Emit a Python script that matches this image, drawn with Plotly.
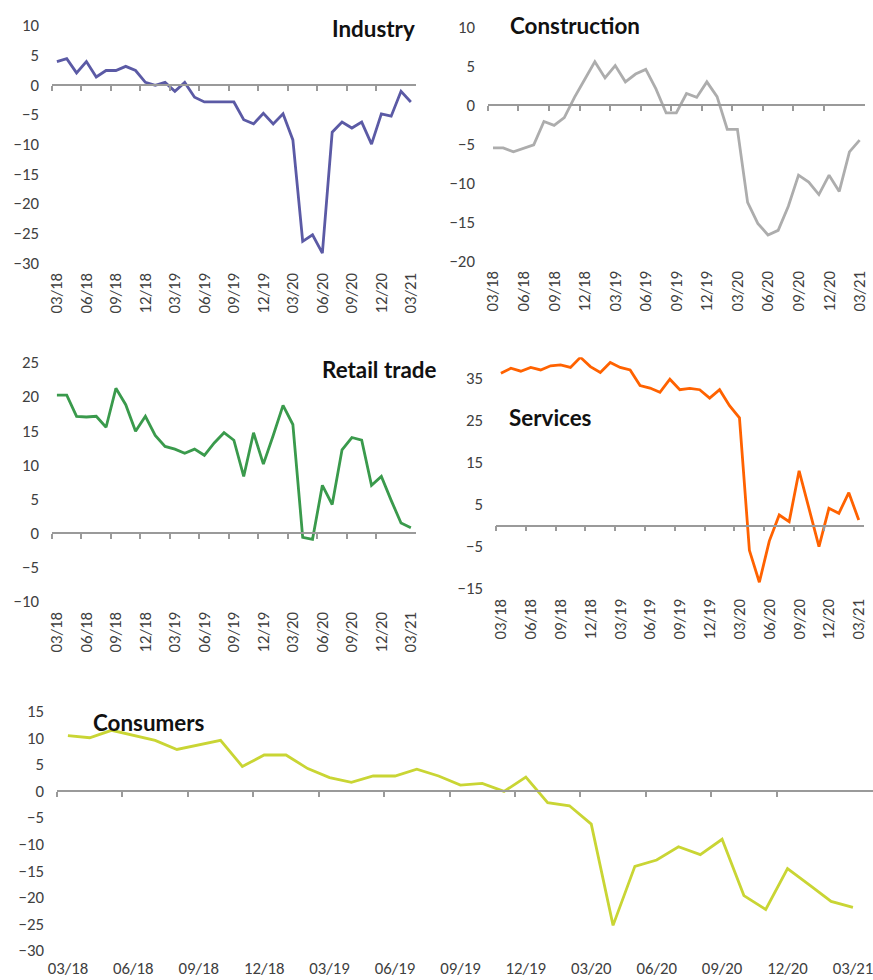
import plotly.graph_objects as go
import pandas as pd

# Monthly observations, March 2018 - March 2021
months = pd.period_range("2018-03", "2021-03", freq="M").strftime("%m/%y").tolist()

industry = [3.9, 4.4, 2.0, 3.9, 1.3, 2.4, 2.4, 3.1, 2.4, 0.4, -0.1, 0.4, -1.1,
            0.4, -2.1, -2.9, -2.9, -2.9, -2.9, -5.9, -6.6, -4.8, -6.6, -4.9,
            -9.3, -26.4, -25.3, -28.4, -8.0, -6.3, -7.3, -6.3, -10.0, -4.9,
            -5.3, -1.1, -2.9]
construction = [-5.5, -5.5, -6.0, -5.5, -5.1, -2.1, -2.6, -1.6, 1.0, 3.3, 5.6,
                3.5, 5.1, 3.0, 4.0, 4.6, 2.1, -1.0, -1.0, 1.5, 1.0, 3.0, 1.1,
                -3.1, -3.1, -12.5, -15.2, -16.7, -16.1, -13.0, -9.0, -9.9,
                -11.5, -9.0, -11.1, -6.0, -4.5]
retail = [20.2, 20.2, 17.1, 17.0, 17.1, 15.5, 21.2, 18.8, 14.9, 17.1, 14.3,
          12.7, 12.3, 11.7, 12.3, 11.4, 13.2, 14.7, 13.6, 8.3, 14.7, 10.1,
          14.3, 18.7, 15.9, -0.6, -0.9, 7.0, 4.2, 12.2, 14.0, 13.6, 7.0, 8.3,
          4.8, 1.5, 0.8]
services = [36.2, 37.4, 36.7, 37.6, 37.0, 38.0, 38.2, 37.6, 40.0, 37.8, 36.4,
            38.8, 37.6, 37.0, 33.3, 32.7, 31.7, 34.8, 32.3, 32.6, 32.3, 30.3,
            32.3, 28.5, 25.6, -5.9, -13.5, -3.7, 2.5, 0.9, 13.0, 4.1, -5.0,
            4.1, 2.9, 7.8, 1.3]
consumers = [10.4, 10.0, 11.4, 10.4, 9.5, 7.8, 8.6, 9.5, 4.6, 6.75, 6.75, 4.2,
             2.5, 1.6, 2.8, 2.8, 4.1, 2.8, 1.1, 1.4, -0.1, 2.6, -2.2, -2.8,
             -6.25, -25.3, -14.2, -13.0, -10.5, -12.0, -9.1, -19.7, -22.3,
             -14.6, -17.7, -20.8, -21.9]

# Layout is planned in page pixels (873 x 980); the page shows the figure with a
# small inset and a slight shrink, so page positions are mapped back to figure pixels.
PAGE_W, PAGE_H = 873, 980
SCALE = 0.982
OX, OY = 9.1, 9.5
W = round((PAGE_W - OX) / SCALE)
H = round((PAGE_H - OY) / SCALE)
FONT = "Carlito, Lato, sans-serif"
TICK_COLOR = "#404040"
AXIS_GREY = "#9a9a9a"
TICK_SIZE = 16.5 / SCALE
TITLE_SIZE = 22 / SCALE

# name, values, colour, plot box on the page (left, right, top, bottom in px), y range,
# tick0, dtick, x range end, tick angle, title position / anchor
panels = [
    dict(name="Industry", values=industry, color="#5b5aa5",
         box=(52, 415, 25, 263), yr=(-30, 10), tick0=-30, dtick=5, xend=36.5,
         angle=-90, title_xy=(416, 28), title_anchor="right"),
    dict(name="Construction", values=construction, color="#adadad",
         box=(487, 863, 27, 261), yr=(-20, 10), tick0=-20, dtick=5, xend=36.5,
         angle=-90, title_xy=(507, 25), title_anchor="left"),
    dict(name="Retail trade", values=retail, color="#3a9a4c",
         box=(52, 415, 363, 603), yr=(-10, 25), tick0=-10, dtick=5, xend=36.5,
         angle=-90, title_xy=(437, 370), title_anchor="right"),
    dict(name="Services", values=services, color="#ff6200",
         box=(495, 862, 358, 590), yr=(-15, 40), tick0=-15, dtick=10, xend=36.5,
         angle=-90, title_xy=(506, 418), title_anchor="left"),
    dict(name="Consumers", values=consumers, color="#c9d534",
         box=(57, 873, 713, 953), yr=(-30, 15), tick0=-30, dtick=5, xend=37.0,
         angle=0, title_xy=(91, 724), title_anchor="left"),
]

x_idx = list(range(len(months)))
label_idx = x_idx[::3]
label_txt = [months[i] for i in label_idx]
boundary_idx = [i - 0.5 for i in label_idx[:-1]]


def fx(px):
    return min(max((px - OX) / SCALE / W, 0.0), 1.0)


def fy(py):
    return min(max(1 - (py - OY) / SCALE / H, 0.0), 1.0)


fig = go.Figure()
layout = {}
annotations = []
n = len(panels)

for k, p in enumerate(panels, start=1):
    left, right, top, bottom = p["box"]
    xdom = [fx(left), fx(right)]
    ydom = [fy(bottom), fy(top)]
    ymin, ymax = p["yr"]
    xr = [-0.5, p["xend"]]
    zero_px = bottom - (0 - ymin) / (ymax - ymin) * (bottom - top)
    zero_pos = fy(zero_px)

    xa = f"xaxis{k}" if k > 1 else "xaxis"
    ya = f"yaxis{k}" if k > 1 else "yaxis"
    xz = f"xaxis{k + n}"
    xref = f"x{k}" if k > 1 else "x"
    yref = f"y{k}" if k > 1 else "y"

    layout[xa] = dict(
        domain=xdom, range=xr, anchor=yref, showgrid=False, zeroline=False,
        showline=False, ticks="", tickvals=label_idx, ticktext=label_txt,
        tickangle=p["angle"], ticklabelstandoff=6, ticklabeloverflow="allow",
        tickfont=dict(family=FONT, size=TICK_SIZE, color=TICK_COLOR), fixedrange=True,
    )
    layout[ya] = dict(
        domain=ydom, range=[ymin, ymax], anchor=xref, showgrid=False,
        zeroline=False, showline=False, ticks="", tick0=p["tick0"],
        dtick=p["dtick"], ticklabelstandoff=12, ticklabeloverflow="allow",
        tickfont=dict(family=FONT, size=TICK_SIZE, color=TICK_COLOR), fixedrange=True,
    )
    # Zero axis with tick marks at quarter boundaries
    layout[xz] = dict(
        domain=xdom, range=xr, overlaying=xref, anchor="free",
        position=zero_pos, showgrid=False, zeroline=False, showline=True,
        linecolor=AXIS_GREY, linewidth=1.5, ticks="outside", ticklen=5,
        tickwidth=1.5, tickcolor=AXIS_GREY, tickvals=boundary_idx,
        showticklabels=False, fixedrange=True,
    )
    fig.add_trace(go.Scatter(x=[], y=[], xaxis=f"x{k + n}", yaxis=yref,
                             showlegend=False, hoverinfo="skip"))
    fig.add_trace(go.Scatter(
        x=x_idx, y=p["values"], mode="lines", name=p["name"],
        line=dict(color=p["color"], width=2.8), xaxis=xref, yaxis=yref,
        showlegend=False, cliponaxis=False,
        customdata=months, hovertemplate="%{customdata}: %{y}<extra></extra>",
    ))

    tx, ty = p["title_xy"]
    annotations.append(dict(
        text=f"<b>{p['name']}</b>", xref="paper", yref="paper",
        x=fx(tx), y=fy(ty), xanchor=p["title_anchor"], yanchor="middle",
        showarrow=False,
        font=dict(family="Lato, sans-serif", size=TITLE_SIZE, color="#111111"),
    ))

fig.update_layout(
    width=W, height=H, margin=dict(l=0, r=0, t=0, b=0),
    paper_bgcolor="white", plot_bgcolor="white",
    annotations=annotations, **layout,
)

fig.write_html("out.html")
